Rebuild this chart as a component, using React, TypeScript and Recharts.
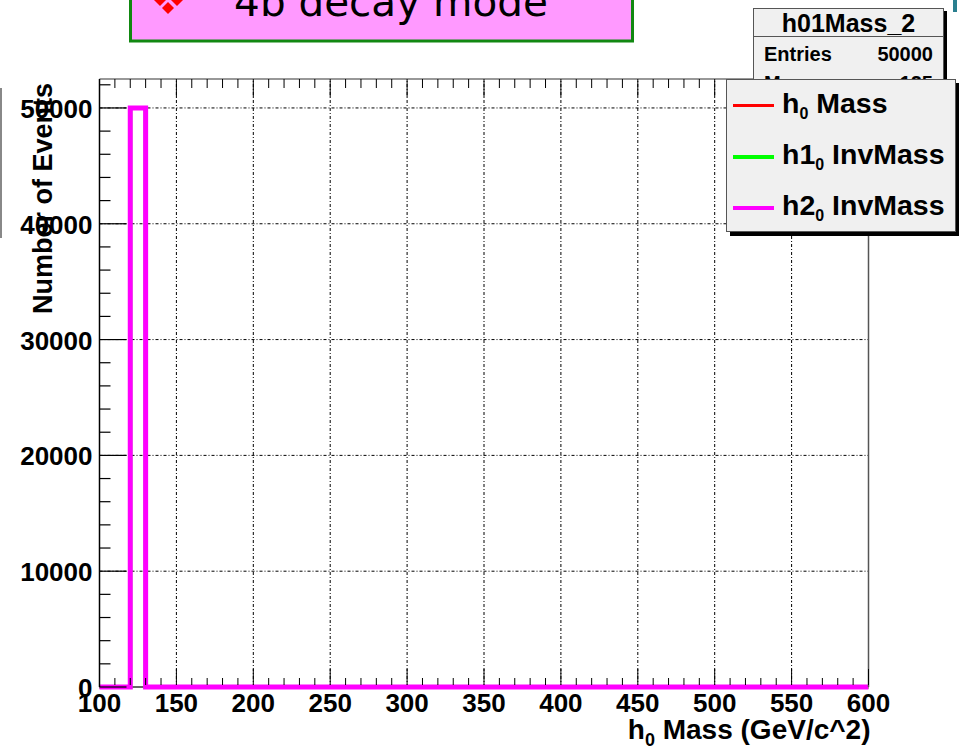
import { Label, Legend, Line, LineChart, ReferenceLine, XAxis, YAxis } from "recharts";

// histogram h01Mass_2: bin edges (GeV/c^2) and counts per bin
const binEdges = [100, 120, 130, 600];
const h0Counts = [0, 50000, 0];
const h1Counts = [0, 50000, 0];
const h2Counts = [0, 50000, 0];

const xMajorTicks = [100, 150, 200, 250, 300, 350, 400, 450, 500, 550, 600];
const yMajorTicks = [0, 10000, 20000, 30000, 40000, 50000];
const xDomain = [100, 600];
const yDomain = [0, 52500];

const statsName = "h01Mass_2";
const statsEntries = 50000;
const statsMean = 125;

const xMinorTicks = Array.from({ length: 51 }, (_, i) => 100 + i * 10);
const yMinorTicks = Array.from({ length: 27 }, (_, i) => i * 2000);

const legendText: Record<string, [string, string, string]> = {
  h0: ["h", "0", " Mass"],
  h1: ["h1", "0", " InvMass"],
  h2: ["h2", "0", " InvMass"],
};

const rows = binEdges.map((mass, i) => {
  const k = Math.min(i, h0Counts.length - 1);
  return { mass, h0: h0Counts[k], h1: h1Counts[k], h2: h2Counts[k] };
});

const FONT = "'Liberation Sans', Arial, Helvetica, sans-serif";
const W = 959;
const H = 751;

function BottomTick({ x, y, payload }: any) {
  const major = xMajorTicks.includes(payload.value);
  return (
    <g>
      <line x1={x} x2={x} y1={y - 2} y2={y - (major ? 18 : 9)} stroke="#000" strokeWidth={1} />
      {major && (
        <text x={x} y={y + 25} textAnchor="middle" fontFamily={FONT} fontWeight="bold" fontSize={26} fill="#000">
          {payload.value}
        </text>
      )}
    </g>
  );
}

function TopTick({ x, y, payload }: any) {
  const major = xMajorTicks.includes(payload.value);
  return <line x1={x} x2={x} y1={y} y2={y + (major ? 18 : 9)} stroke="#000" strokeWidth={1} />;
}

function LeftTick({ x, y, payload }: any) {
  const major = yMajorTicks.includes(payload.value);
  return (
    <g>
      <line x1={x} x2={x + (major ? 27 : 11)} y1={y} y2={y} stroke="#000" strokeWidth={1.2} />
      {major && (
        <text x={x - 7} y={y + 10} textAnchor="end" fontFamily={FONT} fontWeight="bold" fontSize={26} fill="#000">
          {payload.value}
        </text>
      )}
    </g>
  );
}

function RightTick({ x, y, payload }: any) {
  const major = yMajorTicks.includes(payload.value);
  return <line x1={x} x2={x - (major ? 27 : 11)} y1={y} y2={y} stroke="#000" strokeWidth={1.2} />;
}

function HistLegend({ payload }: any) {
  return (
    <div
      style={{
        width: 230,
        height: 153,
        boxSizing: "border-box",
        background: "#f0f0f0",
        border: "1px solid #555",
        boxShadow: "4px 4px 0 #000",
        fontFamily: FONT,
        fontWeight: "bold",
        fontSize: 28.5,
        color: "#000",
      }}
    >
      {(payload || []).map((entry: any) => {
        const [base, sub, rest] = legendText[entry.dataKey];
        const sw = entry.payload?.strokeWidth ?? 3;
        return (
          <div key={entry.dataKey} style={{ height: 51, display: "flex", alignItems: "center", position: "relative" }}>
            <div style={{ marginLeft: 6, width: 41, height: Math.max(3, Math.min(sw, 4)), background: entry.color }} />
            <span style={{ marginLeft: 8, whiteSpace: "nowrap", lineHeight: 1 }}>
              {base}
              <sub style={{ fontSize: 16, verticalAlign: -6 }}>{sub}</sub>
              {rest}
            </span>
          </div>
        );
      })}
    </div>
  );
}

function YTitle({ viewBox }: any) {
  const x = 52;
  const y = viewBox.y + 4;
  return (
    <text
      x={x}
      y={y}
      transform={`rotate(-90 ${x} ${y})`}
      textAnchor="end"
      fontFamily={FONT}
      fontWeight="bold"
      fontSize={27}
      fill="#000"
    >
      Number of Events
    </text>
  );
}

function XTitle({ viewBox }: any) {
  const x = viewBox.x + viewBox.width + 2;
  const y = viewBox.y + 52;
  return (
    <text x={x} y={y} textAnchor="end" fontFamily={FONT} fontWeight="bold" fontSize={28} fill="#000">
      h<tspan dy={7} fontSize={18}>0</tspan>
      <tspan dy={-7}> Mass (GeV/c^2)</tspan>
    </text>
  );
}

export default function App() {
  const grid = { stroke: "#000", strokeWidth: 1, strokeDasharray: "3 2 1 2" };
  const lineProps = { type: "stepAfter" as const, dot: false, isAnimationActive: false };
  return (
    <div style={{ position: "absolute", left: 0, top: 0, width: W, height: H, background: "#fff", overflow: "hidden" }}>
      {/* slide title box, cut at the top */}
      <svg width={W} height={50} style={{ position: "absolute", left: 0, top: 0 }}>
        <rect x={130.5} y={-20} width={502} height={61} fill="#ff99ff" stroke="#118811" strokeWidth={3} />
        <g fill="#ff0000">
          <polygon points="160,-6 166,0 160,6 154,0" />
          <polygon points="177,-6 183,0 177,6 171,0" />
          <polygon points="168,2 174,8 168,14 162,8" />
        </g>
        <text x={391} y={16} textAnchor="middle" fontFamily="'DejaVu Sans', sans-serif" fontSize={40.5} fill="#000">
          4b decay mode
        </text>
        <rect x={953} y={0} width={4} height={12} fill="#2a7f8f" />
      </svg>
      <div style={{ position: "absolute", left: 0, top: 88, width: 2, height: 150, background: "#888" }} />

      <LineChart
        width={W}
        height={H}
        data={rows}
        margin={{ top: 78, right: 89.5, bottom: 63, left: 98.5 }}
      >
        <XAxis
          dataKey="mass"
          type="number"
          domain={xDomain}
          ticks={xMinorTicks}
          interval={0}
          height={1}
          tickSize={0}
          tickMargin={0}
          tickLine={false}
          axisLine={false}
          tick={<BottomTick />}
        >
          <Label content={<XTitle />} />
        </XAxis>
        <XAxis
          xAxisId="top"
          orientation="top"
          dataKey="mass"
          type="number"
          domain={xDomain}
          ticks={xMinorTicks}
          interval={0}
          height={1}
          tickSize={0}
          tickMargin={0}
          tickLine={false}
          axisLine={{ stroke: "#333", strokeWidth: 1.2 }}
          tick={<TopTick />}
        />
        <YAxis
          type="number"
          domain={yDomain}
          ticks={yMinorTicks}
          interval={0}
          width={1}
          tickSize={0}
          tickMargin={0}
          tickLine={false}
          axisLine={{ stroke: "#000", strokeWidth: 1.5 }}
          tick={<LeftTick />}
        >
          <Label content={<YTitle />} />
        </YAxis>
        <YAxis
          yAxisId="right"
          orientation="right"
          type="number"
          domain={yDomain}
          ticks={yMinorTicks}
          interval={0}
          width={1}
          tickSize={0}
          tickMargin={0}
          tickLine={false}
          axisLine={{ stroke: "#555", strokeWidth: 1.5 }}
          tick={<RightTick />}
        />
        {/* bottom frame edge, only visible where the histogram leaves the baseline */}
        <ReferenceLine
          segment={[
            { x: binEdges[1], y: 0 },
            { x: binEdges[2], y: 0 },
          ]}
          stroke="#000"
          strokeWidth={1.2}
        />
        {xMajorTicks.slice(1, -1).map((v) => (
          <ReferenceLine key={`gx${v}`} x={v} {...grid} />
        ))}
        {yMajorTicks.slice(1).map((v) => (
          <ReferenceLine key={`gy${v}`} y={v} {...grid} />
        ))}
        <Line dataKey="h0" name="h0 Mass" stroke="#ff0000" strokeWidth={2} {...lineProps} />
        <Line dataKey="h1" name="h1 InvMass" stroke="#00ff00" strokeWidth={4} {...lineProps} />
        <Line dataKey="h2" name="h2 InvMass" stroke="#ff00ff" strokeWidth={5} {...lineProps} />
        <Legend
          layout="horizontal"
          verticalAlign="middle"
          align="center"
          content={<HistLegend />}
          wrapperStyle={{ position: "absolute", left: 726, top: 79, width: 234, height: 157, zIndex: 3 }}
        />
      </LineChart>

      {/* stats box, partly hidden behind the legend */}
      <div
        style={{
          position: "absolute",
          left: 753,
          top: 8,
          width: 191,
          height: 110,
          boxSizing: "border-box",
          background: "#f0f0f0",
          border: "1px solid #555",
          boxShadow: "3px 3px 0 #000",
          fontFamily: FONT,
          fontWeight: "bold",
          color: "#000",
          zIndex: 2,
        }}
      >
        <div style={{ height: 27, borderBottom: "1px solid #555", textAlign: "center", fontSize: 25, lineHeight: "28px" }}>
          {statsName}
        </div>
        <div style={{ display: "flex", justifyContent: "space-between", padding: "0 10px", fontSize: 20, lineHeight: "34px" }}>
          <span>Entries</span>
          <span>{statsEntries}</span>
        </div>
        <div style={{ display: "flex", justifyContent: "space-between", padding: "0 10px", fontSize: 20, lineHeight: "24px" }}>
          <span>Mean</span>
          <span>{statsMean}</span>
        </div>
      </div>
    </div>
  );
}
